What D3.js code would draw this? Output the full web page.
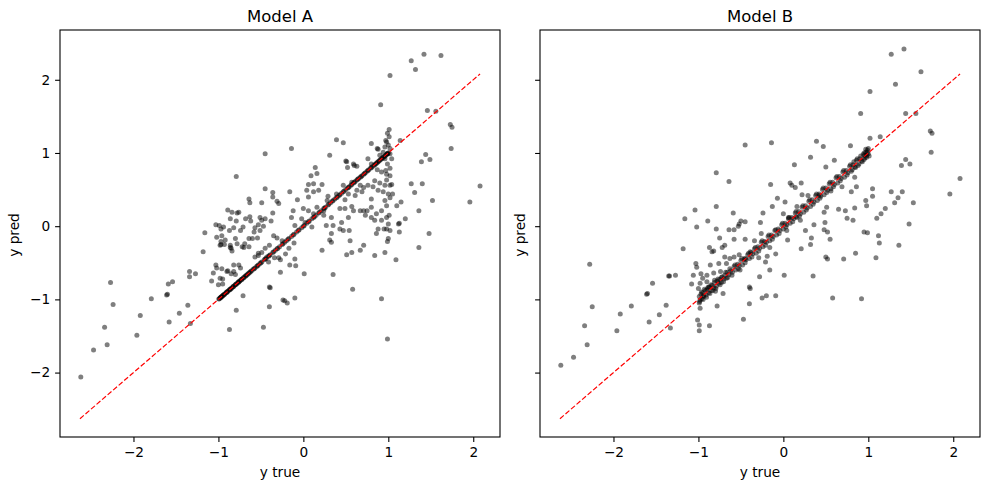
<!DOCTYPE html>
<html>
<head>
<meta charset="utf-8">
<script src="https://cdn.jsdelivr.net/npm/d3@7"></script>
<style>
  body { margin: 0; background: #fff; }
  svg { font-family: "DejaVu Sans", sans-serif; }
</style>
</head>
<body>
<svg id="fig" width="989" height="490"></svg>
<script>
// tick values, shared by both panels
var xTicks = [-2, -1, 0, 1, 2];
var yTicks = [-2, -1, 0, 1, 2];
var panelTitles = ["Model A", "Model B"];

// y_true range -> the red y = x reference line
var lineEnds = [-2.63, 2.08];

// Model A, points off the diagonal [y_true, y_pred]
var scatterA = [
  [-2.62,-2.06],[-2.47,-1.69],[-2.31,-1.62],[-2.34,-1.38],[-2.27,-0.77],[-2.24,-1.07],[-1.92,-1.22],[-1.96,-1.49],
  [-1.79,-0.99],[-1.60,-0.93],[-1.61,-0.94],[-1.59,-0.79],[-1.54,-0.76],[-1.58,-1.31],[-1.46,-1.19],[-1.36,-1.08],
  [-1.33,-1.33],[-1.34,-0.62],[-1.34,-0.69],[-1.27,-0.65],[-1.18,-0.35],[-1.08,-0.75],[-1.06,-0.64],[-1.03,-0.53],
  [-1.02,-0.57],[-0.98,-0.26],[-0.97,-0.25],[-1.00,-0.80],[-0.95,-0.79],[-0.95,-0.72],[-0.89,-0.61],[-0.85,-0.65],
  [-0.82,-0.53],[-0.76,-0.53],[-0.82,-0.62],[-0.74,-0.57],[-0.79,-1.15],[-0.87,-1.41],[-0.71,-0.95],[-0.57,-0.42],
  [-0.53,-0.37],[-0.47,-1.38],[-0.40,-1.10],[-0.39,-0.84],[-0.40,-0.83],[-0.45,-0.30],[-0.40,-0.26],[-0.72,-0.28],
  [-0.70,-0.29],[-0.86,-0.29],[-0.85,-0.30],
  [-1.02,-0.15],[-0.96,-0.13],[-0.97,-0.21],[-0.92,-0.19],[-0.93,-0.25],[-0.86,-0.26],[-0.80,-0.17],[-0.78,-0.24],
  [-0.69,-0.24],[-0.64,-0.28],[-0.84,-0.34],[-1.16,-0.09],[-1.03,0.02],[-0.99,0.01],[-0.97,-0.04],[-0.94,-0.01],
  [-0.87,-0.06],[-0.82,-0.02],[-0.74,-0.06],[-0.71,-0.01],[-0.53,0.02],[-0.47,0.00],[-0.51,-0.06],[-0.57,-0.02],
  [-0.58,-0.08],[-0.60,-0.17],[-0.64,-0.17],[-0.54,-0.16],[-0.68,0.10],[-0.63,0.13],[-0.62,0.07],[-0.51,0.12],
  [-0.49,0.08],[-0.45,0.10],[-0.38,0.07],[-0.36,0.18],[-0.84,0.19],[-0.78,0.18],[-0.76,0.19],[-0.89,0.22],
  [-0.86,0.10],[-0.79,0.07],[-0.63,0.32],[-0.64,0.37],[-0.49,0.32],[-0.36,0.46],[-0.36,0.40],[-0.31,0.34],
  [-0.29,0.31],[-0.45,0.51],[-0.79,0.68],[-0.45,0.99],[-0.53,-0.40],[-0.49,-0.36],[-0.43,-0.42],[-0.41,-0.49],
  [-0.34,-0.43],[-0.27,-0.46],[-0.35,-0.13],[-0.31,-0.16],[-0.25,-0.20],[-0.27,-0.63],[-0.22,-1.02],[-0.19,-1.05],
  [-0.96,-0.58],[-0.90,-0.62],[-0.80,-0.66],[-0.98,-0.71],
  [-0.14,1.06],[0.39,1.18],[0.47,1.14],[0.31,0.97],[0.51,0.88],[0.59,0.85],[0.63,0.82],[0.14,0.80],
  [0.16,0.72],[0.09,0.69],[0.06,0.57],[0.12,0.58],[0.22,0.57],[0.18,0.49],[0.12,0.47],[0.06,0.40],
  [0.04,0.49],[-0.07,0.36],[-0.16,0.47],[0.29,0.41],[0.39,0.44],[0.47,0.56],[0.57,0.60],[0.53,0.44],
  [0.49,0.36],[0.61,0.42],[0.00,0.24],[0.06,0.21],[-0.02,0.10],[-0.12,0.21],[-0.14,0.12],[0.12,0.17],
  [0.16,0.26],[0.24,0.21],[0.24,0.15],[0.33,0.12],[0.28,0.35],[0.43,0.24],[0.49,0.24],[0.57,0.27],
  [0.59,0.21],[0.67,0.21],[0.53,0.12],[0.45,0.05],[0.35,0.01],[0.27,0.01],[0.10,-0.01],[0.02,0.05],
  [-0.10,0.01],[-0.11,-0.23],[0.33,-0.10],[0.31,-0.19],[0.43,-0.04],[0.47,-0.06],[0.54,-0.06],[0.55,-0.20],
  [0.51,-0.39],[0.57,-0.36],[0.67,-0.33],[0.71,-0.26],[0.22,-0.33],[0.01,-0.65],[0.35,-0.66],[0.58,-0.86],
  [-0.10,-0.98],[0.92,-0.99],[-0.10,-0.45],[-0.09,-0.54],
  [1.01,1.32],[0.99,1.27],[1.01,1.22],[0.98,1.15],[1.00,1.11],[1.02,1.06],[0.96,1.08],[0.94,1.01],
  [0.88,1.05],[0.90,0.97],[0.96,0.92],[1.02,0.99],[1.04,0.92],[0.99,0.85],[1.02,0.79],[0.97,0.76],
  [0.80,1.13],[0.76,0.92],[0.80,0.85],[0.87,0.77],[0.92,0.74],[0.98,0.71],[1.02,0.69],[0.98,0.63],
  [1.02,0.56],[0.96,0.56],[0.90,0.59],[0.84,0.62],[0.82,0.54],[0.88,0.49],[0.94,0.47],[1.00,0.44],
  [1.02,0.39],[0.96,0.35],[0.98,0.28],[0.92,0.21],[0.86,0.17],[0.80,0.37],[0.76,0.56],[0.71,0.53],
  [0.67,0.56],[0.63,0.49],[0.69,0.47],[0.80,0.26],[0.75,0.21],[0.71,0.21],[0.73,0.15],[0.80,0.12],
  [0.84,0.08],[0.92,0.08],[0.98,0.12],[1.00,0.03],[0.98,-0.04],[1.02,-0.06],[1.00,-0.17],[0.95,-0.04],
  [0.88,-0.04],[0.86,-0.10],[0.96,-0.36],[0.84,-0.40],[1.09,-0.46],[1.12,0.03],[1.10,0.28],
  [1.42,2.35],[1.62,2.33],[1.27,2.26],[1.32,2.14],[1.02,2.06],[0.91,1.66],[1.46,1.58],[1.56,1.57],
  [1.73,1.39],[1.75,1.35],[1.74,1.06],[1.44,0.98],[1.49,0.91],[1.39,0.88],[1.27,0.58],[1.40,0.58],
  [1.31,0.46],[2.08,0.55],[1.96,0.33],[1.52,0.35],[1.36,0.21],[1.48,-0.10],[1.15,0.33],[1.05,0.44],
  [1.04,0.57],[1.13,0.04],[1.20,0.10],[1.01,0.15],[1.13,-0.08],[0.97,1.17],[1.14,1.17],[0.87,1.06],
  [0.50,0.89],[0.52,0.80],[0.60,0.83],
  [1.36,-0.29],[0.99,-1.54],[0.33,-0.22],[-0.24,-1.01],[-0.16,-0.53],[-0.21,-0.38],[-0.29,-0.43],[-0.17,-0.30],
  [0.99,-0.21]
];

// Model A, points sitting on the y = x line (dense black ribbon)
var diagA = [
  [-0.995,-0.995],[-0.99,-0.99],[-0.98,-0.98],[-0.975,-0.975],[-0.97,-0.97],[-0.965,-0.965],[-0.96,-0.96],[-0.95,-0.95],
  [-0.945,-0.945],[-0.94,-0.94],[-0.93,-0.93],[-0.925,-0.925],[-0.91,-0.91],[-0.905,-0.905],[-0.90,-0.90],[-0.89,-0.89],
  [-0.885,-0.885],[-0.87,-0.87],[-0.865,-0.865],[-0.86,-0.86],[-0.85,-0.85],[-0.845,-0.845],[-0.83,-0.83],[-0.825,-0.825],
  [-0.82,-0.82],[-0.805,-0.805],[-0.80,-0.80],[-0.79,-0.79],[-0.785,-0.785],[-0.77,-0.77],[-0.765,-0.765],[-0.76,-0.76],
  [-0.75,-0.75],[-0.745,-0.745],[-0.73,-0.73],[-0.725,-0.725],[-0.72,-0.72],[-0.705,-0.705],[-0.70,-0.70],[-0.685,-0.685],
  [-0.68,-0.68],[-0.67,-0.67],[-0.66,-0.66],[-0.65,-0.65],[-0.64,-0.64],[-0.63,-0.63],[-0.62,-0.62],[-0.61,-0.61],
  [-0.59,-0.59],[-0.58,-0.58],[-0.57,-0.57],[-0.55,-0.55],[-0.54,-0.54],[-0.53,-0.53],[-0.51,-0.51],[-0.50,-0.50],
  [-0.49,-0.49],[-0.46,-0.46],[-0.45,-0.45],[-0.44,-0.44],[-0.41,-0.41],[-0.40,-0.40],[-0.39,-0.39],[-0.36,-0.36],
  [-0.35,-0.35],[-0.33,-0.33],[-0.31,-0.31],[-0.30,-0.30],[-0.28,-0.28],[-0.25,-0.25],[-0.24,-0.24],[-0.22,-0.22],
  [-0.20,-0.20],[-0.18,-0.18],[-0.17,-0.17],[-0.14,-0.14],[-0.12,-0.12],[-0.11,-0.11],[-0.08,-0.08],[-0.06,-0.06],
  [-0.05,-0.05],[-0.02,-0.02],[0.00,0.00],[0.01,0.01],[0.04,0.04],[0.06,0.06],[0.07,0.07],[0.10,0.10],
  [0.12,0.12],[0.13,0.13],[0.15,0.15],[0.18,0.18],[0.19,0.19],[0.21,0.21],[0.24,0.24],[0.25,0.25],
  [0.26,0.26],[0.29,0.29],[0.30,0.30],[0.32,0.32],[0.34,0.34],[0.35,0.35],[0.37,0.37],[0.39,0.39],
  [0.40,0.40],[0.42,0.42],[0.43,0.43],[0.45,0.45],[0.47,0.47],[0.48,0.48],[0.50,0.50],[0.52,0.52],
  [0.53,0.53],[0.54,0.54],[0.56,0.56],[0.57,0.57],[0.59,0.59],[0.60,0.60],[0.61,0.61],[0.63,0.63],
  [0.64,0.64],[0.65,0.65],[0.67,0.67],[0.68,0.68],[0.69,0.69],[0.71,0.71],[0.72,0.72],[0.73,0.73],
  [0.75,0.75],[0.76,0.76],[0.77,0.77],[0.79,0.79],[0.80,0.80],[0.81,0.81],[0.83,0.83],[0.84,0.84],
  [0.85,0.85],[0.86,0.86],[0.87,0.87],[0.88,0.88],[0.89,0.89],[0.90,0.90],[0.91,0.91],[0.92,0.92],
  [0.93,0.93],[0.94,0.94],[0.95,0.95],[0.96,0.96],[0.97,0.97],[0.98,0.98],[0.985,0.985],[0.99,0.99],
  [0.995,0.995],[1.00,1.00]
];

// Model B, scattered points [y_true, y_pred]
var scatterB = [
  [-2.62,-1.90],[-2.47,-1.79],[-2.31,-1.62],[-2.34,-1.36],[-2.28,-0.52],[-2.25,-1.10],[-1.92,-1.20],[-1.96,-1.43],
  [-1.79,-1.09],[-1.60,-0.92],[-1.61,-0.93],[-1.54,-0.78],[-1.58,-1.31],[-1.46,-1.21],[-1.38,-1.08],[-1.33,-1.39],
  [-1.34,-0.68],[-1.35,-0.68],[-1.27,-0.67],[-1.18,-0.31],[-1.08,-0.79],[-1.06,-0.67],[-1.03,-0.51],[-1.02,-0.56],
  [-1.01,-1.28],[-0.99,-1.35],[-0.99,-1.43],[-0.87,-1.36],[-0.99,-1.05],[-0.98,-1.12],[-0.97,-0.65],[-0.95,-0.71],
  [-0.98,-0.78],[-1.00,-0.85],[-0.94,-0.96],[-0.90,-0.76],[-0.88,-0.83],[-0.80,-0.89],[-0.71,-0.92],[-0.78,-1.09],
  [-0.47,-1.27],[-0.40,-1.06],[-0.39,-0.85],[-0.40,-0.83],[-0.87,-0.29],[-0.84,-0.35],[-0.82,-0.34],[-0.72,-0.29],
  [-0.69,-0.26],[-0.86,-0.53],[-0.76,-0.51],[-0.82,-0.64],[-0.74,-0.62],[-0.90,-0.67],[-0.51,-0.60],[-0.67,-0.51],
  [-0.69,-0.42],[-0.63,-0.44],[-0.58,-0.42],[-0.52,-0.39],[-0.45,-0.44],[-0.39,-0.35],
  [1.36,-0.26],[1.13,-0.23],[1.09,-0.43],[0.85,-0.37],[0.71,-0.45],[0.50,-0.42],[0.52,-0.45],[0.58,-0.98],
  [0.92,-0.99],[0.35,-0.68],[0.21,-0.31],[0.32,-0.25],[0.01,-0.67],[-0.09,-0.95],[-0.20,-0.95],[-0.25,-0.98],
  [-0.28,-0.69],[-0.16,-0.60],[-0.21,-0.49],[-0.09,-0.38],[-0.19,-0.41],[-0.29,-0.43],[-0.16,-0.29],
  [-0.45,1.11],[-0.79,0.73],[-0.64,0.61],[-0.79,0.27],[-1.04,0.22],[-1.16,0.10],[-1.02,-0.01],[-0.89,0.07],
  [-0.79,-0.04],[-0.59,0.18],[-0.50,0.07],[-0.45,0.06],[-0.52,0.03],[-0.53,0.00],[-0.64,-0.05],[-0.58,-0.05],
  [-0.75,-0.16],[-0.58,-0.18],[-0.45,-0.18],[-0.34,-0.20],
  [1.42,2.42],[1.27,2.35],[1.62,2.11],[1.32,1.94],[1.02,1.84],[0.91,1.54],[1.44,1.54],[1.56,1.54],
  [1.73,1.30],[1.75,1.27],[1.74,1.01],[1.44,0.91],[1.49,0.85],[1.39,0.83],[1.27,0.47],[1.40,0.47],
  [1.35,0.39],[1.31,0.32],[1.53,0.32],[2.08,0.65],[1.96,0.44],[1.20,0.24],[1.15,0.17],[1.10,0.11],
  [1.48,0.03],[1.05,0.51],[1.05,0.41],[0.97,0.35],[0.98,0.28],[0.95,-0.08],[0.99,-0.09],[1.12,-0.13],
  [1.02,1.20],[1.14,1.22],[0.79,1.10],[0.39,1.16],[0.47,1.09],[-0.14,1.14],[0.32,0.94],[0.60,0.90],
  [0.50,0.81],[0.13,0.84],[-0.15,0.57],[0.08,0.59],[0.10,0.56],[0.14,0.53],[0.21,0.59],[-0.07,0.38],
  [-0.13,0.27],[-0.24,0.18],[-0.27,0.05],[-0.26,-0.10],[0.22,0.43],[0.29,0.42],[0.16,0.27],[0.02,0.33],
  [0.00,0.17],[0.06,0.12],[0.15,0.13],[0.20,0.08],[0.36,0.02],[0.49,0.05],[0.26,-0.06],[0.33,-0.16],
  [0.48,-0.05],[0.52,-0.08],[0.55,-0.18],[0.04,-0.06],[0.05,-0.19],[0.65,0.23],[0.73,0.21],[0.75,0.11],
  [0.82,0.08],[0.84,0.25],[0.86,0.54],[0.80,0.47],[0.84,0.67],[0.69,0.54],[0.56,0.48],[0.51,0.26],
  [0.48,0.19],[0.42,0.42]
];

// Model B, the tight band hugging y = x
var bandB = [
  [-0.99,-0.96],[-0.98,-1.01],[-0.97,-0.93],[-0.96,-0.99],[-0.95,-0.91],[-0.94,-0.95],[-0.92,-0.88],[-0.91,-0.94],
  [-0.90,-0.87],[-0.88,-0.91],[-0.87,-0.83],[-0.85,-0.88],[-0.84,-0.81],[-0.82,-0.84],[-0.81,-0.77],[-0.79,-0.82],
  [-0.78,-0.75],[-0.76,-0.78],[-0.75,-0.73],[-0.73,-0.77],[-0.72,-0.69],[-0.70,-0.72],[-0.69,-0.67],[-0.67,-0.71],
  [-0.66,-0.63],[-0.64,-0.66],[-0.62,-0.61],[-0.60,-0.63],[-0.58,-0.55],[-0.56,-0.60],[-0.54,-0.52],[-0.52,-0.54],
  [-0.50,-0.47],[-0.48,-0.53],[-0.46,-0.45],[-0.44,-0.46],[-0.42,-0.39],[-0.40,-0.44],[-0.38,-0.36],[-0.36,-0.38],
  [-0.34,-0.31],[-0.32,-0.37],[-0.30,-0.28],[-0.28,-0.30],[-0.26,-0.22],[-0.24,-0.28],[-0.22,-0.21],[-0.20,-0.22],
  [-0.18,-0.14],[-0.16,-0.20],[-0.14,-0.12],[-0.12,-0.14],[-0.10,-0.06],[-0.08,-0.12],[-0.06,-0.04],[-0.04,-0.06],
  [-0.02,0.02],[0.00,-0.04],[0.02,0.04],[0.04,0.02],[0.06,0.10],[0.08,0.04],[0.10,0.12],[0.12,0.10],
  [0.14,0.18],[0.16,0.12],[0.18,0.20],[0.20,0.17],[0.22,0.26],[0.24,0.19],[0.26,0.28],[0.28,0.25],
  [0.30,0.34],[0.32,0.27],[0.34,0.36],[0.36,0.33],[0.38,0.42],[0.40,0.35],[0.42,0.44],[0.44,0.41],
  [0.46,0.50],[0.48,0.43],[0.50,0.52],[0.52,0.49],[0.54,0.58],[0.56,0.51],[0.58,0.60],[0.60,0.57],
  [0.62,0.66],[0.64,0.59],[0.66,0.68],[0.68,0.65],[0.70,0.74],[0.72,0.67],[0.74,0.76],[0.76,0.73],
  [0.78,0.82],[0.80,0.75],[0.82,0.84],[0.84,0.81],[0.86,0.90],[0.88,0.83],[0.90,0.92],[0.92,0.89],
  [0.94,0.98],[0.95,0.91],[0.96,0.97],[0.97,1.01],[0.98,0.94],[0.99,1.04],[1.00,0.99],
  [-0.985,-1.03],[-0.965,-0.90],[-0.945,-1.00],[-0.93,-0.86],[-0.905,-0.97],[-0.89,-0.84],[-0.865,-0.92],[-0.85,-0.80],
  [-0.83,-0.88],[-0.81,-0.74],[-0.795,-0.85],[-0.77,-0.72],[-0.745,-0.80],[-0.73,-0.70],[-0.705,-0.76],[-0.68,-0.63],
  [-0.655,-0.70],[-0.63,-0.58],[-0.605,-0.67],[-0.57,-0.53],[-0.53,-0.58],[-0.49,-0.44],[-0.45,-0.50],[-0.41,-0.37],
  [-0.37,-0.42],[-0.33,-0.29],[-0.29,-0.34],[-0.25,-0.20],[-0.21,-0.26],[-0.17,-0.12],[-0.13,-0.18],[-0.09,-0.05],
  [-0.05,-0.10],[-0.01,0.04],[0.03,-0.01],[0.07,0.12],[0.11,0.06],[0.15,0.20],[0.19,0.14],[0.23,0.28],
  [0.27,0.22],[0.31,0.36],[0.35,0.30],[0.39,0.44],[0.43,0.38],[0.47,0.52],[0.51,0.46],[0.55,0.60],
  [0.59,0.54],[0.63,0.68],[0.67,0.62],[0.71,0.76],[0.75,0.70],[0.79,0.84],[0.81,0.77],[0.83,0.88],
  [0.85,0.80],[0.87,0.92],[0.89,0.85],[0.91,0.96],[0.93,0.88],[0.95,1.00],[0.96,0.93],[0.97,1.05],
  [0.98,0.97],[0.99,1.01],[1.00,1.06],[1.01,0.96]
];

var W = 440, H = 407;
var panelLeft = [60, 540], panelTop = 30;

var svg = d3.select("#fig");

var x = d3.scaleLinear().domain([-2.865, 2.315]).range([0, W]);
var y = d3.scaleLinear().domain([-2.88, 2.68]).range([H, 0]);

var panels = [
  {title: panelTitles[0], pts: scatterA.concat(diagA), yLabels: true},
  {title: panelTitles[1], pts: scatterB.concat(bandB), yLabels: false}
];

panels.forEach(function (p, i) {
  var g = svg.append("g").attr("transform", "translate(" + panelLeft[i] + "," + panelTop + ")");

  // points
  g.append("g").selectAll("circle")
    .data(p.pts)
    .join("circle")
      .attr("cx", d => x(d[0]))
      .attr("cy", d => y(d[1]))
      .attr("r", 2.5)
      .attr("fill", "black")
      .attr("fill-opacity", 0.5);

  // y = x reference
  g.append("line")
    .attr("x1", x(lineEnds[0])).attr("y1", y(lineEnds[0]))
    .attr("x2", x(lineEnds[1])).attr("y2", y(lineEnds[1]))
    .attr("stroke", "red")
    .attr("stroke-width", 1.2)
    .attr("stroke-dasharray", "5.1,2.2");

  // axes
  var xa = g.append("g").attr("transform", "translate(0," + H + ")")
    .call(d3.axisBottom(x).tickValues(xTicks).tickSize(4.9).tickPadding(5).tickFormat(d3.format("d")));
  var ya = g.append("g")
    .call(d3.axisLeft(y).tickValues(yTicks).tickSize(4.9).tickPadding(5)
      .tickFormat(p.yLabels ? d3.format("d") : ""));
  [xa, ya].forEach(function (a) {
    a.select(".domain").remove();
    a.selectAll("line").attr("stroke-width", 1.1);
    a.selectAll("text").attr("font-size", 13.7).attr("fill", "black")
      .attr("font-family", "DejaVu Sans");
  });

  // frame
  g.append("rect")
    .attr("width", W).attr("height", H)
    .attr("fill", "none").attr("stroke", "black").attr("stroke-width", 1.1);

  g.append("text")
    .attr("x", W / 2).attr("y", -8)
    .attr("text-anchor", "middle")
    .attr("font-size", 16.5)
    .text(p.title);

  g.append("text")
    .attr("x", W / 2).attr("y", H + 40)
    .attr("text-anchor", "middle")
    .attr("font-size", 13.7)
    .text("y true");

  g.append("text")
    .attr("transform", "translate(" + (i == 0 ? -41 : -15) + "," + (235 - panelTop) + ") rotate(-90)")
    .attr("text-anchor", "middle")
    .attr("font-size", 13.7)
    .text("y pred");
});
</script>
</body>
</html>
